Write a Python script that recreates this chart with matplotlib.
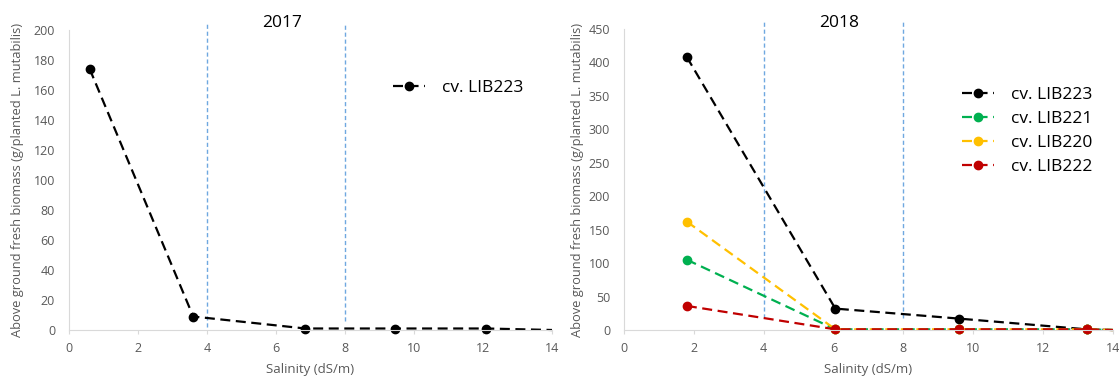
import matplotlib

matplotlib.use("Agg")
import matplotlib.pyplot as plt

plt.rcParams["font.family"] = ["Open Sans", "DejaVu Sans"]

# 2017 season, one cultivar
x_2017 = [0.6, 3.6, 6.85, 9.45, 12.1, 14.0]
lib223_2017 = [174, 9, 1, 1, 1, 0]

# 2018 season, four cultivars
x_2018 = [1.8, 6.05, 9.6, 13.25, 14.0]
lib223_2018 = [408, 32, 17, 1, 0]
lib221_2018 = [105, 1, 1, 1, 0]
lib220_2018 = [162, 1, 1, 1, 0]
lib222_2018 = [36, 1, 1, 1, 0]

series_2018 = [
    ("cv. LIB223", lib223_2018, "black"),
    ("cv. LIB221", lib221_2018, "#00B050"),
    ("cv. LIB220", lib220_2018, "#FFC000"),
    ("cv. LIB222", lib222_2018, "#C00000"),
]

YLABEL = "Above ground fresh biomass (g/planted L. mutabilis)"
VLINE = "#6FA8E0"
TXT = "#595959"
DASH = (0, (4.5, 2.5))


def style(ax, ymax, step, ylab_x):
    ax.set_xlim(0, 14)
    ax.set_ylim(0, ymax)
    ax.set_xticks(range(0, 15, 2))
    ax.set_yticks(range(0, ymax + 1, step))
    for side in ("top", "right"):
        ax.spines[side].set_visible(False)
    for side in ("left", "bottom"):
        ax.spines[side].set_color("#D9D9D9")
    ax.tick_params(labelsize=9, colors=TXT)
    ax.tick_params(axis="y", length=0, pad=10)
    ax.tick_params(axis="x", length=3, color="#D9D9D9", pad=6)
    ax.set_xlabel("Salinity (dS/m)", fontsize=9.5, color=TXT)
    ax.set_ylabel(YLABEL, fontsize=9.3, color=TXT)
    ax.xaxis.set_label_coords(0.5, -0.11)
    ax.yaxis.set_label_coords(ylab_x, 0.5)


def vline(ax, x, lo, hi):
    ax.axvline(x, ymin=lo, ymax=hi, color=VLINE, lw=1.0, ls=(0, (3, 2)),
               clip_on=False, snap=True)


def legend(ax, x_px, top_px):
    ax.legend(loc="upper left", bbox_to_anchor=(x_px / 1119, 1 - top_px / 378),
              bbox_transform=ax.figure.transFigure, frameon=False, fontsize=12.5,
              borderpad=0, borderaxespad=0, handlelength=1.85, handletextpad=1.0,
              labelspacing=0.45)


fig = plt.figure(figsize=(11.19, 3.78), dpi=100)
ax1 = fig.add_axes([69 / 1119, 48 / 378, 483 / 1119, 300 / 378])
ax2 = fig.add_axes([624 / 1119, 48 / 378, 489 / 1119, 301 / 378])

# 2017
vline(ax1, 4, 0.01, 1.025)
vline(ax1, 8, 0.03, 1.017)
ax1.plot(x_2017, lib223_2017, color="black", ls=DASH, lw=1.6, marker="o", ms=6,
         markevery=list(range(len(x_2017) - 1)), label="cv. LIB223", clip_on=False)
style(ax1, 200, 20, -0.093)
fig.text(282 / 1119, 1 - 23 / 378, "2017", fontsize=12.5, ha="center", va="center")
legend(ax1, 393, 80)

# 2018
vline(ax2, 4, 0.04, 1.03)
vline(ax2, 8, 0.04, 1.023)
for label, ys, color in series_2018:
    ax2.plot(x_2018, ys, color=color, ls=DASH, lw=1.6, marker="o", ms=6,
             markevery=list(range(len(x_2018) - 1)), label=label, clip_on=False)
style(ax2, 450, 50, -0.082)
fig.text(839 / 1119, 1 - 23 / 378, "2018", fontsize=12.5, ha="center", va="center")
legend(ax2, 962, 87)

fig.savefig("out.png", dpi=100)
